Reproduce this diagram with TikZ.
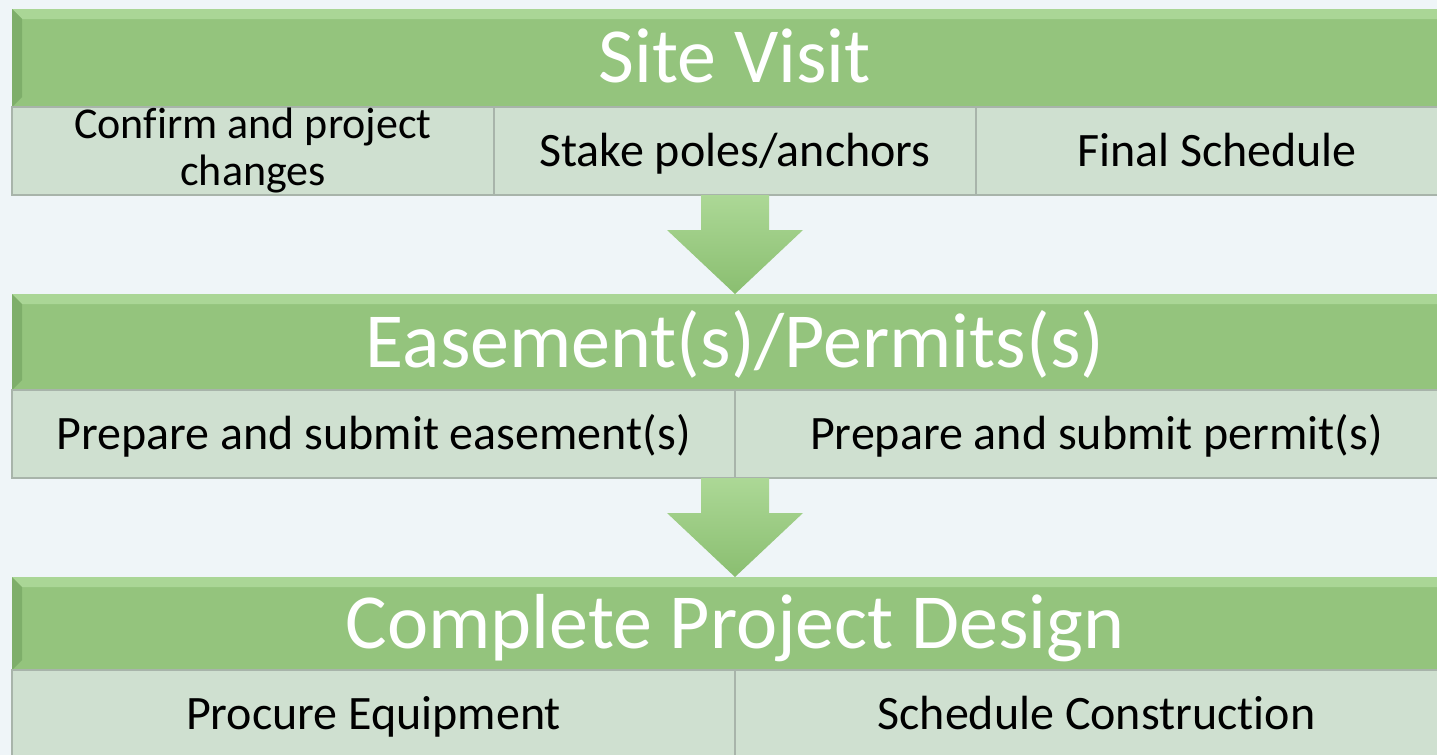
\documentclass[tikz,border=0pt]{standalone}
\usepackage{fontspec}
\setmainfont[Ligatures=NoCommon]{Carlito}
\usepackage{tikz}
\usetikzlibrary{calc,positioning}
\definecolor{bgcol}{RGB}{239,245,248}
\definecolor{hdgreen}{RGB}{148,196,125}
\definecolor{hdtop}{RGB}{170,214,150}
\definecolor{hddark}{RGB}{126,174,106}
\definecolor{cellgreen}{RGB}{207,224,208}
\definecolor{cellline}{RGB}{168,180,170}
\definecolor{arrlight}{RGB}{172,216,150}
\definecolor{arrdark}{RGB}{138,190,112}
\tikzset{
    %Define style for the green title bars
    headbar/.style={
           rectangle,
           fill=hdgreen,
           minimum width=723pt,
           inner sep=0pt, outer sep=0pt,
           text=white,
           font=\fontsize{39}{40}\selectfont,
           text height=25pt, text depth=0pt,
           path picture={
             \fill[hdtop] (path picture bounding box.north west)
               -- (path picture bounding box.north east)
               -- ([xshift=-5pt,yshift=-5pt]path picture bounding box.north east)
               -- ([xshift=5pt,yshift=-5pt]path picture bounding box.north west) -- cycle;
             \fill[hddark] (path picture bounding box.north west)
               -- ([xshift=5pt,yshift=-5pt]path picture bounding box.north west)
               -- ([xshift=5pt,yshift=5pt]path picture bounding box.south west)
               -- (path picture bounding box.south west) -- cycle;}
           },
    %Define style for the task cells
    cell/.style={
           rectangle,
           fill=cellgreen,
           draw=cellline, line width=1pt,
           minimum height=44pt,
           inner xsep=2pt, inner ysep=0pt, outer sep=0pt,
           font=\fontsize{24}{24}\selectfont,
           align=center
           },
    cellone/.style={
           cell,
           text height=15.5pt, text depth=0pt
           },
    % Define block arrow style
    blockarrow/.style={
           top color=arrlight,
           bottom color=arrdark,
           draw=none}
}
\begin{document}
\begin{tikzpicture}[x=0.5pt,y=-0.5pt]
\useasboundingbox (0,0) rectangle (1437,755);
\clip (0,0) rectangle (1437,755);
\fill[bgcol] (0,0) rectangle (1437,755);

 %nodes
\node[headbar, minimum height=49pt, anchor=north west](site) at (12,9){Site Visit};
\node[cell, minimum width=241pt, anchor=north west, font=\fontsize{22}{23.5}\selectfont](confirm) at (site.south west){Confirm and project\\changes};
\node[cellone, minimum width=241pt, right=0pt of confirm](stake){Stake poles/anchors};
\node[cellone, minimum width=241pt, right=0pt of stake](final){Final Schedule};

\node[headbar, minimum height=48pt, anchor=north west](ease) at (12,294){Easement(s)/Permits(s)};
\node[cellone, minimum width=361.5pt, anchor=north west](prepease) at (ease.south west){Prepare and submit easement(s)};
\node[cellone, minimum width=361.5pt, right=0pt of prepease](prepperm){Prepare and submit permit(s)};

\node[headbar, minimum height=46.5pt, anchor=north west](design) at (12,577){Complete Project Design};
\node[cellone, minimum width=361.5pt, anchor=north west](procure) at (design.south west){Procure Equipment};
\node[cellone, minimum width=361.5pt, right=0pt of procure](schedule){Schedule Construction};

 %arrows
\foreach \from/\to in {stake.south/ease.north, prepease.south east/design.north}
  \path[blockarrow] ($(\from)+(-34,0)$) -- ($(\from)+(34,0)$)
     -- ($(\to)+(34,-64)$) -- ($(\to)+(68,-64)$) -- (\to)
     -- ($(\to)+(-68,-64)$) -- ($(\to)+(-34,-64)$) -- cycle;
\end{tikzpicture}
\end{document}
